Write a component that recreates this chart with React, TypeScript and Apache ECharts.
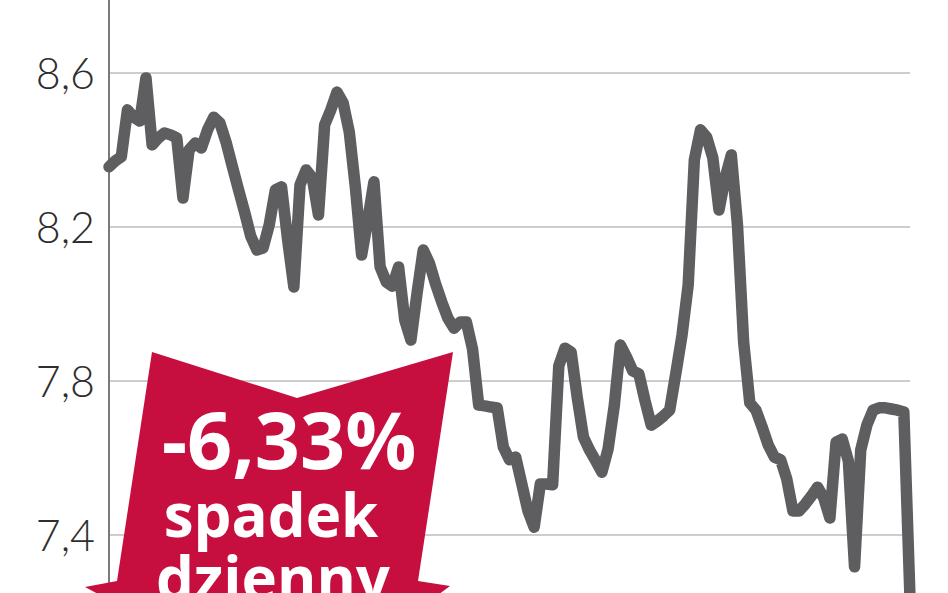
import React, { useEffect, useRef } from "react";
import * as echarts from "echarts";

// Trading-day index (category axis, hidden)
const days: string[] = Array.from({ length: 131 }, (_, i) => String(i + 1));

// Exchange rate values
const rates: number[] = [
  8.355, 8.370, 8.381, 8.503, 8.484, 8.474, 8.586, 8.412, 8.430, 8.443,
  8.438, 8.430, 8.274, 8.399, 8.417, 8.404, 8.451, 8.484, 8.469, 8.419,
  8.357, 8.297, 8.238, 8.175, 8.139, 8.144, 8.204, 8.295, 8.303, 8.165,
  8.043, 8.308, 8.347, 8.326, 8.230, 8.464, 8.503, 8.549, 8.521, 8.445,
  8.300, 8.126, 8.217, 8.316, 8.095, 8.056, 8.045, 8.095, 7.957, 7.905,
  8.027, 8.139, 8.105, 8.051, 8.004, 7.962, 7.936, 7.952, 7.952, 7.882,
  7.736, 7.734, 7.731, 7.729, 7.627, 7.594, 7.601, 7.531, 7.461, 7.419,
  7.531, 7.531, 7.529, 7.838, 7.884, 7.874, 7.755, 7.653, 7.619, 7.591,
  7.562, 7.622, 7.734, 7.892, 7.861, 7.825, 7.817, 7.747, 7.684, 7.695,
  7.708, 7.723, 7.819, 7.918, 8.048, 8.373, 8.451, 8.432, 8.378, 8.243,
  8.326, 8.386, 8.204, 7.900, 7.742, 7.723, 7.679, 7.632, 7.601, 7.594,
  7.544, 7.461, 7.461, 7.479, 7.500, 7.523, 7.495, 7.443, 7.640, 7.648,
  7.591, 7.316, 7.619, 7.684, 7.723, 7.729, 7.729, 7.726, 7.723, 7.718,
  7.234,
];

const yTickValues: number[] = [7.4, 7.8, 8.2, 8.6];
const yTickLabels: string[] = ["7,4", "7,8", "8,2", "8,6"];

const badgeLines: string[] = ["-6,33%", "spadek", "dzienny"];

// The chart canvas is taller than the visible window so that the axis
// range 7.0–9.0 (ticks every 0.4 from 7.0) lines up with the reference.
const OFFSET = 100;
const CANVAS_H = 800;

export default function App() {
  const ref = useRef<HTMLDivElement>(null);

  useEffect(() => {
    if (!ref.current) return;
    const chart = echarts.init(ref.current, null, { renderer: "svg" });
    const textStyle = (text: string, size: number) => ({
      text,
      fill: "#ffffff",
      fontFamily: "Open Sans",
      fontWeight: "bold",
      fontSize: size,
      textAlign: "center",
      textVerticalAlign: "middle",
    });
    chart.setOption({
      animation: false,
      backgroundColor: "#ffffff",
      grid: {
        left: 109,
        right: 38,
        top: 18.5,
        bottom: 11.5,
        containLabel: false,
        outerBoundsMode: "none",
      },
      xAxis: {
        type: "category",
        data: days,
        boundaryGap: false,
        show: false,
      },
      yAxis: {
        type: "value",
        min: 7.0,
        max: 9.0,
        interval: 0.4,
        axisLine: { show: true, lineStyle: { color: "#7a7a7a", width: 2 } },
        axisTick: { show: false },
        splitLine: { show: true, lineStyle: { color: "#cdcdcd", width: 2 } },
        axisLabel: {
          showMinLabel: false,
          showMaxLabel: false,
          margin: 14,
          color: "#2e2e2e",
          fontFamily: "Lato",
          fontWeight: 300,
          fontSize: 43,
          formatter: (v: number) => {
            const i = yTickValues.findIndex((t) => Math.abs(t - v) < 1e-6);
            return i >= 0 ? yTickLabels[i] : "";
          },
        },
      },
      series: [
        {
          type: "line",
          data: rates,
          showSymbol: false,
          symbol: "none",
          lineStyle: { color: "#5e5e60", width: 11.5, cap: "round", join: "round" },
          z: 3,
        },
      ],
      graphic: [
        {
          type: "group",
          x: 0,
          y: OFFSET,
          z: 100,
          children: [
            {
              type: "polygon",
              z: 100,
              shape: {
                points: [
                  [152, 352], [297, 398], [453, 352], [418, 581], [450, 586],
                  [297, 700], [85, 587], [117, 581],
                ],
              },
              style: { fill: "#c70f3f" },
            },
            { type: "text", z: 101, x: 289, y: 438, style: textStyle(badgeLines[0], 79) },
            { type: "text", z: 101, x: 271, y: 514, style: textStyle(badgeLines[1], 60) },
            { type: "text", z: 101, x: 273, y: 577, style: textStyle(badgeLines[2], 60) },
          ],
        },
      ],
    });
    return () => chart.dispose();
  }, []);

  return (
    <div
      style={{
        position: "absolute",
        left: 0,
        top: 0,
        width: 948,
        height: 593,
        overflow: "hidden",
        background: "#fff",
      }}
    >
      <div
        ref={ref}
        style={{ position: "absolute", left: 0, top: -OFFSET, width: 948, height: CANVAS_H }}
      />
    </div>
  );
}
